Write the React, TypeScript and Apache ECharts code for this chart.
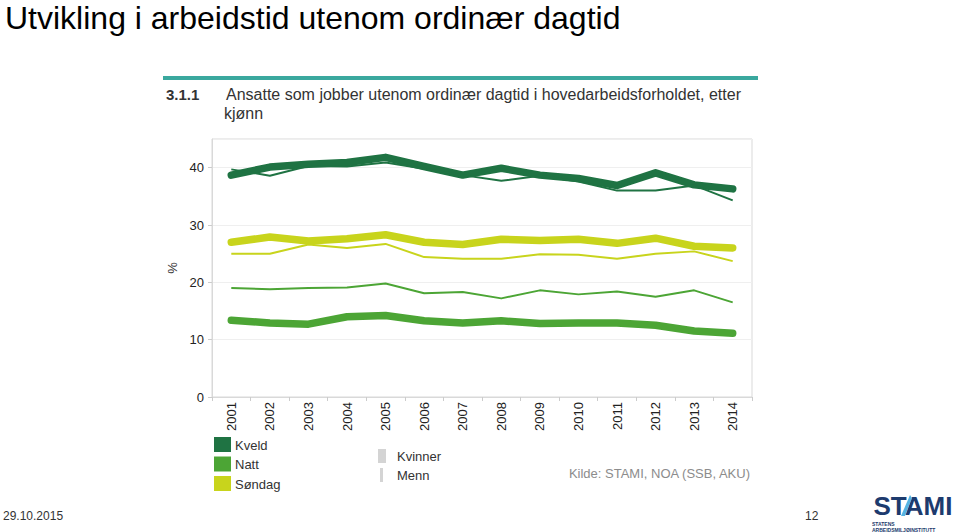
import React, { useEffect, useRef } from "react";
import * as echarts from "echarts";

const years = ["2001", "2002", "2003", "2004", "2005", "2006", "2007", "2008", "2009", "2010", "2011", "2012", "2013", "2014"];
const kveldKvinner = [38.7, 40.1, 40.6, 40.9, 41.8, 40.2, 38.7, 39.9, 38.7, 38.1, 36.9, 39.1, 37.0, 36.3];
const kveldMenn = [39.7, 38.6, 40.3, 40.2, 40.9, 39.8, 38.7, 37.7, 38.6, 37.6, 36.0, 36.0, 36.9, 34.3];
const nattKvinner = [13.4, 12.9, 12.7, 14.0, 14.2, 13.3, 12.9, 13.3, 12.8, 12.9, 12.9, 12.5, 11.5, 11.1];
const nattMenn = [19.0, 18.8, 19.0, 19.1, 19.8, 18.1, 18.3, 17.2, 18.6, 17.9, 18.4, 17.5, 18.6, 16.5];
const sondagKvinner = [27.0, 27.9, 27.2, 27.6, 28.3, 27.0, 26.6, 27.5, 27.3, 27.5, 26.8, 27.7, 26.3, 26.0];
const sondagMenn = [25.0, 25.0, 26.6, 26.0, 26.7, 24.4, 24.1, 24.1, 24.9, 24.8, 24.1, 25.0, 25.4, 23.7];

const typeNames = ["Kveld", "Natt", "Søndag"];
const sexNames = ["Kvinner", "Menn"];

const C_KVELD = "#1f7343";
const C_NATT = "#4ca535";
const C_SONDAG = "#c8d41c";
const FONT = "'Liberation Sans', Arial, sans-serif";

export default function App() {
  const ref = useRef<HTMLDivElement>(null);
  useEffect(() => {
    if (!ref.current) return;
    const chart = echarts.init(ref.current, null, { renderer: "svg" });
    const thick = (name: string, data: number[], color: string) => ({
      name,
      type: "line",
      data,
      symbol: "none",
      silent: true,
      lineStyle: { color, width: 7.5, cap: "round", join: "round" },
      z: 2,
    });
    const thin = (name: string, data: number[], color: string) => ({
      name,
      type: "line",
      data,
      symbol: "none",
      silent: true,
      lineStyle: { color, width: 2, join: "round" },
      z: 3,
    });
    const legendColors = [C_KVELD, C_NATT, C_SONDAG];
    const legendEls: any[] = [];
    typeNames.forEach((n, i) => {
      legendEls.push({
        type: "rect",
        shape: { x: 214, y: 437 + i * 19.5, width: 17, height: 15 },
        style: { fill: legendColors[i] },
      });
      legendEls.push({
        type: "text",
        x: 235,
        y: 445 + i * 19.5,
        style: { text: n, fill: "#333", font: `13px ${FONT}`, verticalAlign: "middle" },
      });
    });
    sexNames.forEach((n, i) => {
      legendEls.push({
        type: "rect",
        shape: i === 0 ? { x: 378, y: 449, width: 8, height: 14 } : { x: 380, y: 468, width: 3, height: 14 },
        style: { fill: "#d4d4d4" },
      });
      legendEls.push({
        type: "text",
        x: 397,
        y: 456 + i * 19,
        style: { text: n, fill: "#333", font: `13px ${FONT}`, verticalAlign: "middle" },
      });
    });

    chart.setOption({
      animation: false,
      backgroundColor: "#ffffff",
      grid: {
        left: 212,
        right: 208,
        top: 139,
        bottom: 135,
        show: true,
        borderColor: "#d9d9d9",
        borderWidth: 1,
        containLabel: false,
      },
      xAxis: {
        type: "category",
        data: years,
        boundaryGap: true,
        axisLine: { show: true, lineStyle: { color: "#d9d9d9" } },
        axisTick: { show: true, length: 4, lineStyle: { color: "#cccccc" } },
        axisLabel: { rotate: 90, color: "#222", fontSize: 13, fontFamily: FONT, margin: 5 },
      },
      yAxis: {
        type: "value",
        min: 0,
        max: 45,
        interval: 10,
        name: "%",
        nameLocation: "middle",
        nameGap: 32,
        nameRotate: 90,
        nameTextStyle: { color: "#333", fontSize: 13, fontFamily: FONT },
        axisLine: { show: true, lineStyle: { color: "#d9d9d9" } },
        axisTick: { show: true, length: 4, lineStyle: { color: "#cccccc" } },
        axisLabel: { color: "#222", fontSize: 13, fontFamily: FONT, margin: 8, showMaxLabel: false },
        splitLine: { show: true, lineStyle: { color: "#efefef" } },
      },
      series: [
        thick("Kveld Kvinner", kveldKvinner, C_KVELD),
        thin("Kveld Menn", kveldMenn, C_KVELD),
        thick("Natt Kvinner", nattKvinner, C_NATT),
        thin("Natt Menn", nattMenn, C_NATT),
        thick("Søndag Kvinner", sondagKvinner, C_SONDAG),
        thin("Søndag Menn", sondagMenn, C_SONDAG),
      ],
      graphic: [
        {
          type: "text",
          x: 5,
          y: 18,
          style: {
            text: "Utvikling i arbeidstid utenom ordinær dagtid",
            fill: "#000",
            font: `32px ${FONT}`,
            verticalAlign: "middle",
          },
        },
        {
          type: "rect",
          shape: { x: 163, y: 76, width: 595, height: 4 },
          style: { fill: "#3aa89e" },
        },
        {
          type: "text",
          x: 166,
          y: 94,
          style: { text: "3.1.1", fill: "#333", font: `bold 15px ${FONT}`, verticalAlign: "middle" },
        },
        {
          type: "text",
          x: 226,
          y: 94,
          style: {
            text: "Ansatte som jobber utenom ordinær dagtid i hovedarbeidsforholdet, etter",
            fill: "#333",
            font: `16px ${FONT}`,
            verticalAlign: "middle",
          },
        },
        {
          type: "text",
          x: 224,
          y: 113,
          style: { text: "kjønn", fill: "#333", font: `16px ${FONT}`, verticalAlign: "middle" },
        },
        ...legendEls,
        {
          type: "text",
          x: 750,
          y: 473,
          style: {
            text: "Kilde: STAMI, NOA (SSB, AKU)",
            fill: "#8c8c8c",
            font: `13px ${FONT}`,
            align: "right",
            verticalAlign: "middle",
          },
        },
        {
          type: "text",
          x: 3,
          y: 516,
          style: { text: "29.10.2015", fill: "#333", font: `12px ${FONT}`, verticalAlign: "middle" },
        },
        {
          type: "text",
          x: 805,
          y: 516,
          style: { text: "12", fill: "#333", font: `12px ${FONT}`, verticalAlign: "middle" },
        },
        {
          type: "text",
          x: 913,
          y: 506,
          style: {
            text: "STAMI",
            fill: "#1d3b6e",
            font: `bold 26px ${FONT}`,
            align: "center",
            verticalAlign: "middle",
          },
        },
        {
          type: "polygon",
          shape: { points: [[901, 516], [905, 516], [912, 498], [910, 495]] },
          style: { fill: "#56b4e3" },
        },
        {
          type: "text",
          x: 872,
          y: 524,
          style: { text: "STATENS", fill: "#1d3b6e", font: `bold 5px ${FONT}`, verticalAlign: "middle" },
        },
        {
          type: "text",
          x: 872,
          y: 529.5,
          style: { text: "ARBEIDSMILJØINSTITUTT", fill: "#1d3b6e", font: `bold 5px ${FONT}`, verticalAlign: "middle" },
        },
      ],
    });
    return () => chart.dispose();
  }, []);
  return (
    <div
      ref={ref}
      style={{ position: "fixed", left: 0, top: 0, width: 960, height: 532, background: "#fff" }}
    />
  );
}
